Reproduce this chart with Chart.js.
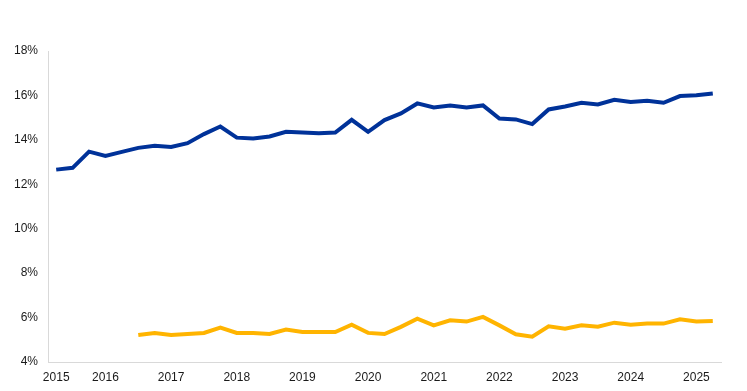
<!DOCTYPE html>
<html>
<head>
<meta charset="utf-8">
<script src="https://cdn.jsdelivr.net/npm/chart.js@4/dist/chart.umd.min.js"></script>
<style>
html,body{margin:0;padding:0;background:#fff;}
#wrap{width:747px;height:391px;position:relative;}
</style>
</head>
<body>
<div id="wrap"><canvas id="c" width="747" height="391"></canvas></div>
<script>
// Quarterly categories, 2015 Q2 – 2025 Q2
const quarters = [
  '2015Q2','2015Q3','2015Q4',
  '2016Q1','2016Q2','2016Q3','2016Q4',
  '2017Q1','2017Q2','2017Q3','2017Q4',
  '2018Q1','2018Q2','2018Q3','2018Q4',
  '2019Q1','2019Q2','2019Q3','2019Q4',
  '2020Q1','2020Q2','2020Q3','2020Q4',
  '2021Q1','2021Q2','2021Q3','2021Q4',
  '2022Q1','2022Q2','2022Q3','2022Q4',
  '2023Q1','2023Q2','2023Q3','2023Q4',
  '2024Q1','2024Q2','2024Q3','2024Q4',
  '2025Q1','2025Q2'
];
// Tick labels shown under the x axis
const xTickLabels = [
  '2015','','',
  '2016','','','',
  '2017','','','',
  '2018','','','',
  '2019','','','',
  '2020','','','',
  '2021','','','',
  '2022','','','',
  '2023','','','',
  '2024','','','',
  '2025',''
];
const blueSeries = [
  12.66,12.74,13.47,
  13.28,13.46,13.64,13.73,
  13.68,13.85,14.26,14.60,
  14.10,14.06,14.15,14.36,
  14.33,14.30,14.33,14.90,
  14.36,14.89,15.19,15.64,
  15.46,15.55,15.46,15.55,
  14.96,14.92,14.71,15.37,
  15.50,15.67,15.59,15.80,
  15.71,15.76,15.67,15.97,
  16.01,16.09
];
const yellowSeries = [
  null,null,null,
  null,null,5.22,5.31,
  5.22,5.26,5.31,5.55,
  5.31,5.31,5.26,5.46,
  5.35,5.35,5.35,5.68,
  5.31,5.26,5.58,5.95,
  5.65,5.88,5.82,6.03,
  5.65,5.25,5.14,5.61,
  5.50,5.65,5.59,5.77,
  5.68,5.73,5.73,5.92,
  5.82,5.85
];
const yTicks = [4,6,8,10,12,14,16,18];

const font = {family: '"Liberation Sans", Arial, sans-serif', size: 12};
new Chart(document.getElementById('c'), {
  type: 'line',
  data: {
    labels: quarters,
    datasets: [
      {data: blueSeries, borderColor: '#003299', borderWidth: 4, pointRadius: 0, tension: 0, fill: false, spanGaps: false},
      {data: yellowSeries, borderColor: '#FFB400', borderWidth: 4, pointRadius: 0, tension: 0, fill: false, spanGaps: false}
    ]
  },
  options: {
    responsive: false,
    animation: false,
    devicePixelRatio: 1,
    layout: {padding: {left: 0, right: 26, top: 51, bottom: 0}},
    plugins: {legend: {display: false}, tooltip: {enabled: false}},
    scales: {
      x: {
        type: 'category',
        offset: true,
        grid: {display: false, drawTicks: false},
        border: {display: true, color: '#d9d9d9', width: 1},
        ticks: {
          autoSkip: false, maxRotation: 0, minRotation: 0, padding: 8,
          color: '#1a1a1a', font: font,
          callback: (v, i) => xTickLabels[i]
        },
        afterFit: s => { s.height = 29; }
      },
      y: {
        min: 4, max: 18,
        afterBuildTicks: s => { s.ticks = yTicks.map(v => ({value: v})); },
        grid: {display: false, drawTicks: false},
        border: {display: true, color: '#d9d9d9', width: 1},
        ticks: {
          padding: 10, color: '#1a1a1a', font: font,
          callback: v => v + '%'
        },
        afterFit: s => { s.width = 48; }
      }
    }
  }
});
</script>
</body>
</html>
